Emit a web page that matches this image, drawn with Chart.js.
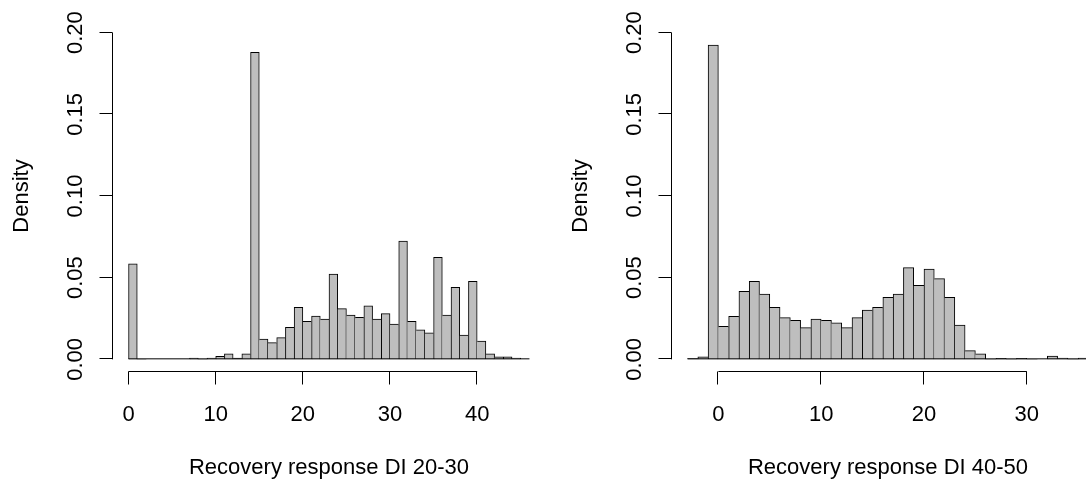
<!DOCTYPE html>
<html>
<head>
<meta charset="utf-8">
<title>Recovery response histograms</title>
<script src="https://cdn.jsdelivr.net/npm/chart.js@4.4.1/dist/chart.umd.min.js"></script>
<style>
  html, body { margin: 0; padding: 0; background: #fff; overflow: hidden; }
  #wrap { position: relative; width: 1086px; height: 481px; overflow: hidden; }
  canvas { position: absolute; top: 0; }
  #leftChart { left: 0; }
  #rightChart { left: 559px; }
</style>
</head>
<body>
<div id="wrap">
  <canvas id="leftChart" width="559" height="481"></canvas>
  <canvas id="rightChart" width="559" height="481"></canvas>
</div>
<script>
// Left panel: DI 20-30 (bin edges and density per bin)
const leftBreaks = [0, 1, 2, 3, 4, 5, 6, 7, 8, 9, 10, 11, 12, 13, 14, 15, 16, 17, 18, 19, 20,
  21, 22, 23, 24, 25, 26, 27, 28, 29, 30, 31, 32, 33, 34, 35, 36, 37, 38, 39, 40,
  41, 42, 43, 44, 45, 46];
const leftDensity = [0.0584, 0, 0, 0, 0, 0, 0, 0.0008, 0, 0.0008, 0.0018, 0.0033, 0.0007, 0.0033,
  0.188, 0.0124, 0.0102, 0.0133, 0.0196, 0.0318, 0.0233, 0.0265, 0.0247, 0.0522, 0.031,
  0.0271, 0.0257, 0.0327, 0.0247, 0.028, 0.0216, 0.0724, 0.0233, 0.018, 0.0163, 0.0624,
  0.0271, 0.0441, 0.0149, 0.0478, 0.0112, 0.0033, 0.0016, 0.0016, 0.0008, 0];
const leftXTicks = [0, 10, 20, 30, 40];

// Right panel: DI 40-50
const rightBreaks = [-3, -2, -1, 0, 1, 2, 3, 4, 5, 6, 7, 8, 9, 10, 11, 12, 13, 14, 15, 16, 17,
  18, 19, 20, 21, 22, 23, 24, 25, 26, 27, 28, 29, 30, 31, 32, 33, 34, 35, 36];
const rightDensity = [0.0004, 0.0016, 0.1924, 0.0202, 0.0263, 0.0416, 0.0478, 0.04, 0.0318,
  0.0255, 0.0239, 0.0194, 0.0247, 0.0239, 0.0224, 0.0194, 0.0255, 0.0302, 0.0318, 0.038,
  0.04, 0.0561, 0.0453, 0.0553, 0.0494, 0.038, 0.021, 0.0053, 0.0033, 0, 0.0006, 0, 0.0006,
  0, 0, 0.002, 0.0008, 0, 0.0008];
const rightXTicks = [0, 10, 20, 30];

// shared y axis
const yTicks = [0, 0.05, 0.10, 0.15, 0.20];
const yTickLabels = ['0.00', '0.05', '0.10', '0.15', '0.20'];

const FONT = '22px "Liberation Sans", Arial, sans-serif';

// R-style axes drawn off the plot region
const rAxes = {
  id: 'rAxes',
  afterDatasetsDraw(chart, args, opts) {
    const { ctx, chartArea: a, scales: { x, y } } = chart;
    ctx.save();
    ctx.strokeStyle = '#000';
    ctx.fillStyle = '#000';
    ctx.lineWidth = 1;
    ctx.font = FONT;

    // histogram base line (zero-height bins)
    const yZero = y.getPixelForValue(0) - 0.5;
    ctx.beginPath();
    ctx.moveTo(x.getPixelForValue(opts.breaks[0]), yZero);
    ctx.lineTo(x.getPixelForValue(opts.breaks[opts.breaks.length - 1]), yZero);
    ctx.stroke();

    // y axis
    const ax = Math.round(a.left) - 0.5;
    ctx.beginPath();
    ctx.moveTo(ax, y.getPixelForValue(yTicks[0]));
    ctx.lineTo(ax, y.getPixelForValue(yTicks[yTicks.length - 1]));
    yTicks.forEach(t => {
      const py = Math.round(y.getPixelForValue(t)) - 0.5;
      ctx.moveTo(ax, py);
      ctx.lineTo(ax - 13, py);
    });
    ctx.stroke();
    ctx.textAlign = 'center';
    ctx.textBaseline = 'alphabetic';
    yTicks.forEach((t, i) => {
      ctx.save();
      ctx.translate(a.left - 31, y.getPixelForValue(t));
      ctx.rotate(-Math.PI / 2);
      ctx.fillText(yTickLabels[i], 0, 0);
      ctx.restore();
    });
    ctx.save();
    ctx.translate(a.left - 85, (a.top + a.bottom) / 2);
    ctx.rotate(-Math.PI / 2);
    ctx.fillText('Density', 0, 0);
    ctx.restore();

    // x axis
    const ay = Math.round(a.bottom) - 0.5;
    const ticks = opts.xTicks;
    ctx.beginPath();
    ctx.moveTo(x.getPixelForValue(ticks[0]), ay);
    ctx.lineTo(x.getPixelForValue(ticks[ticks.length - 1]), ay);
    ticks.forEach(t => {
      const px = Math.round(x.getPixelForValue(t)) - 0.5;
      ctx.moveTo(px, ay);
      ctx.lineTo(px, ay + 13);
    });
    ctx.stroke();
    ticks.forEach(t => {
      ctx.fillText(String(t), x.getPixelForValue(t), a.bottom + 48.6);
    });
    ctx.fillText(opts.title, (a.left + a.right) / 2, a.bottom + 102);
    ctx.restore();
  }
};

function makeHistogram(canvasId, breaks, density, xTicks, title) {
  const points = density.map((d, i) => ({ x: (breaks[i] + breaks[i + 1]) / 2, y: d }));
  const span = breaks[breaks.length - 1] - breaks[0];
  const last = density.length - 1;

  new Chart(document.getElementById(canvasId), {
    type: 'bar',
    data: {
      datasets: [{
        data: points,
        backgroundColor: '#bebebe',
        borderColor: '#000',
        borderSkipped: 'start',
        // one 1px line per shared bin edge, like R's rect outlines
        borderWidth: (c) => {
          const i = c.dataIndex;
          const v = density[i];
          return {
            top: 1,
            bottom: 0,
            left: (i === 0 || density[i - 1] <= v) ? 1 : 0,
            right: (i === last || density[i + 1] < v) ? 1 : 0
          };
        },
        barPercentage: 1,
        categoryPercentage: 1
      }]
    },
    options: {
      responsive: false,
      animation: false,
      layout: { padding: { left: 112.5, right: 13.5, top: 19.6, bottom: 108.6 } },
      scales: {
        x: {
          type: 'linear',
          display: false,
          offset: false,
          grid: { offset: false },
          min: breaks[0] - 0.04 * span,
          max: breaks[breaks.length - 1] + 0.04 * span,
          ticks: { stepSize: 10 }
        },
        y: {
          display: false,
          min: -0.008,
          max: 0.208
        }
      },
      plugins: {
        legend: { display: false },
        tooltip: { enabled: false },
        rAxes: { breaks: breaks, xTicks: xTicks, title: title }
      }
    },
    plugins: [rAxes]
  });
}

makeHistogram('leftChart', leftBreaks, leftDensity, leftXTicks, 'Recovery response DI 20-30');
makeHistogram('rightChart', rightBreaks, rightDensity, rightXTicks, 'Recovery response DI 40-50');
</script>
</body>
</html>
